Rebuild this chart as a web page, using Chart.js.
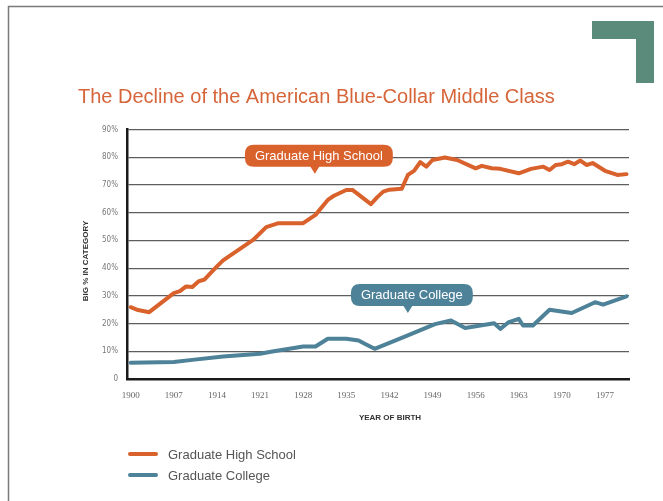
<!DOCTYPE html>
<html>
<head>
<meta charset="utf-8">
<script src="https://cdn.jsdelivr.net/npm/chart.js@4.4.1/dist/chart.umd.min.js"></script>
<style>
html, body { margin: 0; padding: 0; background: #fff; }
#wrap { width: 663px; height: 501px; }
</style>
</head>
<body>
<div id="wrap"><canvas id="chart" width="663" height="501"></canvas></div>
<script>
// data (year of birth, % in category)
const hsYears = [1900, 1901, 1903, 1907, 1908, 1909, 1910, 1911, 1912, 1914, 1915, 1920, 1922, 1924, 1928, 1930, 1932, 1933, 1935, 1936, 1938, 1939, 1940, 1941, 1942, 1944, 1945, 1946, 1947, 1948, 1949, 1951, 1953, 1956, 1957, 1958.6, 1960, 1963, 1965, 1967, 1968, 1969, 1970, 1971, 1972, 1973, 1974, 1975, 1977, 1979, 1980.5];
const hsValues = [25.9, 25.0, 24.1, 31.0, 31.7, 33.4, 33.2, 35.2, 35.9, 40.6, 42.8, 50.4, 54.8, 56.2, 56.2, 59.2, 64.6, 66.1, 68.2, 68.2, 64.8, 63.1, 65.5, 67.6, 68.3, 68.6, 73.6, 75.1, 78.2, 76.6, 79.0, 79.9, 79.0, 76.0, 76.9, 76.0, 75.8, 74.2, 75.8, 76.6, 75.4, 77.2, 77.5, 78.4, 77.5, 78.8, 77.2, 77.9, 75.1, 73.6, 73.9];

const colYears = [1900, 1907, 1910, 1915, 1921, 1923, 1928, 1930, 1932, 1935, 1937, 1938, 1939.6, 1944.5, 1949.4, 1952, 1954.3, 1959, 1960, 1961.3, 1963, 1963.7, 1965.3, 1968, 1971.6, 1975.4, 1976.7, 1980.5];
const colValues = [5.9, 6.1, 6.9, 8.1, 9.1, 9.9, 11.7, 11.7, 14.5, 14.5, 13.9, 12.7, 10.9, 15.3, 19.8, 21.1, 18.4, 20.1, 18.1, 20.4, 21.7, 19.3, 19.3, 25.0, 23.8, 27.7, 26.8, 29.8];

const yearTicks = [1900, 1907, 1914, 1921, 1928, 1935, 1942, 1949, 1956, 1963, 1970, 1977];
const seriesNames = ['Graduate High School', 'Graduate College'];

// callout labels, anchored in data units (year, %)
const callouts = [
    { text: 'Graduate High School', year: 1929.9, value: 74.0, dataset: 0 },
    { text: 'Graduate College', year: 1945.0, value: 23.8, dataset: 1 }
];

const ORANGE = '#d9612c';
const BLUE = '#4d8298';

function toPoints(xs, ys) {
    return xs.map(function (x, i) { return { x: x, y: ys[i] }; });
}

function roundRect(ctx, x, y, w, h, r) {
    ctx.beginPath();
    ctx.moveTo(x + r, y);
    ctx.lineTo(x + w - r, y);
    ctx.quadraticCurveTo(x + w, y, x + w, y + r);
    ctx.lineTo(x + w, y + h - r);
    ctx.quadraticCurveTo(x + w, y + h, x + w - r, y + h);
    ctx.lineTo(x + r, y + h);
    ctx.quadraticCurveTo(x, y + h, x, y + h - r);
    ctx.lineTo(x, y + r);
    ctx.quadraticCurveTo(x, y, x + r, y);
    ctx.closePath();
}

// page decoration, titles, callouts and legend
const decor = {
    id: 'decor',
    beforeDraw(chart) {
        const ctx = chart.ctx;
        ctx.save();
        ctx.fillStyle = '#fff';
        ctx.fillRect(0, 0, chart.width, chart.height);
        // slide frame
        ctx.strokeStyle = '#7a7a7a';
        ctx.lineWidth = 1.5;
        ctx.beginPath();
        ctx.moveTo(chart.width, 6.5);
        ctx.lineTo(8.5, 6.5);
        ctx.lineTo(8.5, chart.height);
        ctx.stroke();
        // green corner mark
        ctx.fillStyle = '#5a8b7b';
        ctx.fillRect(592, 21, 62, 18);
        ctx.fillRect(636, 21, 18, 62);
        // title
        ctx.fillStyle = '#d6653a';
        ctx.font = '20px "Liberation Sans", Arial, sans-serif';
        ctx.textBaseline = 'middle';
        ctx.textAlign = 'left';
        ctx.fillText('The Decline of the American Blue-Collar Middle Class', 78, 97);
        ctx.restore();
    },
    afterDatasetsDraw(chart) {
        const ctx = chart.ctx;
        const xs = chart.scales.x, ys = chart.scales.y;
        ctx.save();
        ctx.font = '13px "Liberation Sans", Arial, sans-serif';
        ctx.textBaseline = 'middle';
        ctx.textAlign = 'center';
        callouts.forEach(function (c) {
            const px = xs.getPixelForValue(c.year);
            const py = ys.getPixelForValue(c.value);
            const tw = ctx.measureText(c.text).width;
            const w = tw + 20, h = 22;
            const cx = px + 4;
            const bottom = py - 7;
            ctx.fillStyle = chart.data.datasets[c.dataset].borderColor;
            roundRect(ctx, cx - w / 2, bottom - h, w, h, 9);
            ctx.fill();
            ctx.beginPath();
            ctx.moveTo(px - 5, bottom - 1);
            ctx.lineTo(px + 5, bottom - 1);
            ctx.lineTo(px, py);
            ctx.closePath();
            ctx.fill();
            ctx.fillStyle = '#fff';
            ctx.fillText(c.text, cx, bottom - h / 2 + 0.5);
        });
        ctx.restore();
    },
    afterDraw(chart) {
        const ctx = chart.ctx;
        const area = chart.chartArea;
        ctx.save();
        // axis titles
        ctx.fillStyle = '#333';
        ctx.font = 'bold 8px "Liberation Sans", Arial, sans-serif';
        ctx.textAlign = 'center';
        ctx.textBaseline = 'middle';
        ctx.fillText('YEAR OF BIRTH', 390, 418);
        ctx.translate(86, 261);
        ctx.rotate(-Math.PI / 2);
        ctx.fillText('BIG % IN CATEGORY', 0, 0);
        ctx.restore();

        // legend
        ctx.save();
        ctx.font = '13px "Liberation Sans", Arial, sans-serif';
        ctx.textAlign = 'left';
        ctx.textBaseline = 'middle';
        ctx.lineCap = 'round';
        chart.data.datasets.forEach(function (ds, i) {
            const y = area.bottom + 75 + i * 21;
            ctx.strokeStyle = ds.borderColor;
            ctx.lineWidth = 4;
            ctx.beginPath();
            ctx.moveTo(area.left + 3, y);
            ctx.lineTo(area.left + 29, y);
            ctx.stroke();
            ctx.fillStyle = '#555';
            ctx.fillText(ds.label, area.left + 41, y + 1);
        });
        ctx.restore();
    }
};

const ctx = document.getElementById('chart');
const myChart = new Chart(ctx, {
    type: 'line',
    data: {
        datasets: [{
            label: seriesNames[0],
            data: toPoints(hsYears, hsValues),
            borderColor: ORANGE,
            backgroundColor: ORANGE,
            borderWidth: 4,
            pointRadius: 0,
            tension: 0,
            borderJoinStyle: 'round',
            borderCapStyle: 'round'
        },
        {
            label: seriesNames[1],
            data: toPoints(colYears, colValues),
            borderColor: BLUE,
            backgroundColor: BLUE,
            borderWidth: 4,
            pointRadius: 0,
            tension: 0,
            borderJoinStyle: 'round',
            borderCapStyle: 'round'
        }]
    },
    options: {
        responsive: false,
        animation: false,
        layout: { padding: { top: 129.5, right: 34, bottom: 92, left: 0 } },
        plugins: {
            legend: { display: false },
            tooltip: { enabled: false }
        },
        scales: {
            x: {
                type: 'linear',
                min: 1899.4,
                max: 1980.9,
                afterBuildTicks: function (scale) {
                    scale.ticks = yearTicks.map(function (v) { return { value: v }; });
                },
                afterFit: function (scale) { scale.height = 30; },
                grid: { display: false, drawTicks: false },
                border: { display: true, color: '#1a1a1a', width: 2.5 },
                ticks: {
                    padding: 11,
                    maxRotation: 0,
                    autoSkip: false,
                    color: '#666',
                    font: { family: '"Liberation Serif", serif', size: 9 },
                    callback: function (v) { return String(v); }
                }
            },
            y: {
                min: 0,
                max: 90,
                afterFit: function (scale) { scale.width = 127; },
                grid: { color: '#5e5e5e', lineWidth: 1.2, drawTicks: false },
                border: { display: true, color: '#1a1a1a', width: 2.5 },
                ticks: {
                    stepSize: 10,
                    padding: 9,
                    color: '#777',
                    font: { family: '"DejaVu Sans Condensed", "DejaVu Sans", sans-serif', size: 8 },
                    callback: function (v) { return v === 0 ? '0' : v + '%'; }
                }
            }
        }
    },
    plugins: [decor]
});
</script>
</body>
</html>
